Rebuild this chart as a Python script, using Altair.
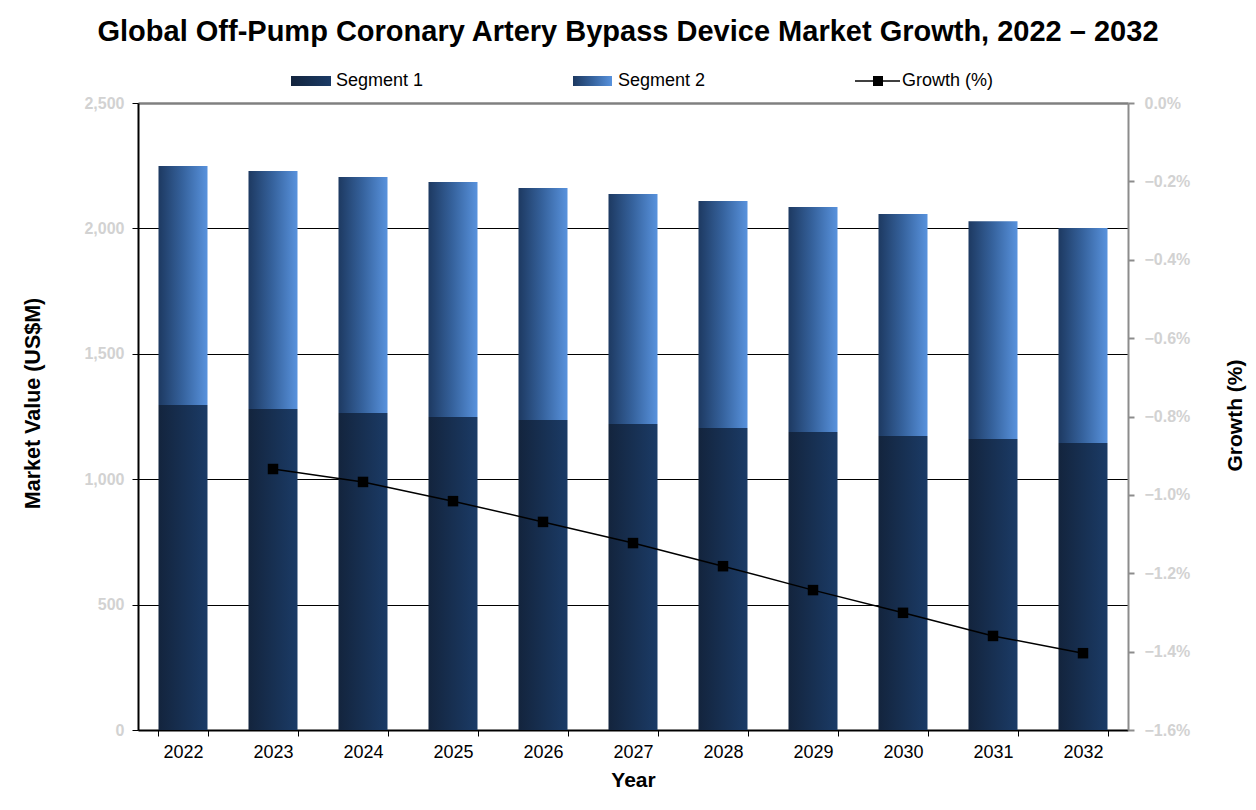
import altair as alt
import pandas as pd

years = ["2022", "2023", "2024", "2025", "2026", "2027", "2028", "2029", "2030", "2031", "2032"]
segment1 = [1296, 1280, 1264, 1248, 1236, 1220, 1204, 1188, 1172, 1160, 1144]
segment2 = [953, 949, 941, 937, 925, 917, 905, 897, 885, 869, 858]
growth = [None, -0.934, -0.967, -1.016, -1.069, -1.123, -1.182, -1.243, -1.301, -1.360, -1.404]

left_ticks = [0, 500, 1000, 1500, 2000, 2500]
right_ticks = [-1.6, -1.4, -1.2, -1.0, -0.8, -0.6, -0.4, -0.2, 0.0]

df = pd.DataFrame({
    "year": years,
    "seg1": segment1,
    "seg2": segment2,
    "growth": growth,
})
df["total"] = df["seg1"] + df["seg2"]

FONT = "Liberation Sans"

grad1 = alt.Gradient(
    gradient="linear",
    stops=[alt.GradientStop(offset=0, color="#13243d"),
           alt.GradientStop(offset=1, color="#1b3b66")],
    x1=0, x2=1, y1=0, y2=0,
)
grad2 = alt.Gradient(
    gradient="linear",
    stops=[alt.GradientStop(offset=0, color="#1d3961"),
           alt.GradientStop(offset=0.5, color="#36639e"),
           alt.GradientStop(offset=1, color="#5892dd")],
    x1=0, x2=1, y1=0, y2=0,
)

x_enc = alt.X(
    "year:O",
    scale=alt.Scale(paddingInner=0.455, paddingOuter=0.2275),
    axis=alt.Axis(
        title="Year", titleFontSize=21, titleFont=FONT, titleFontWeight="bold",
        titleColor="black", titlePadding=8,
        labelFontSize=18, labelFont=FONT, labelColor="black", labelAngle=0, labelPadding=7,
        domainColor="black", domainWidth=2, tickColor="black", tickSize=6, tickWidth=1,
        tickBand="extent",
    ),
)

y_left = alt.Y(
    "seg1:Q",
    scale=alt.Scale(domain=[0, 2500], nice=False),
    axis=alt.Axis(
        title="Market Value (US$M)", titleFontSize=21.5, titleFont=FONT, titleFontWeight="bold",
        titleColor="black", titleX=-105, titleY=300, titleAngle=270,
        titleBaseline="middle", titleAlign="center",
        values=left_ticks, format=",d",
        labelFontSize=16, labelFont=FONT, labelColor="#d2d2d2", labelFontWeight="bold", labelPadding=8,
        domainColor="black", domainWidth=2, tickColor="black", tickSize=6,
        grid=True,
        gridColor={"condition": {"test": "datum.value >= 2500", "value": "#808080"}, "value": "#000000"},
        gridWidth={"condition": {"test": "datum.value >= 2500", "value": 2.5}, "value": 1},
    ),
)

bar1 = alt.Chart(df).mark_bar(fill=grad1, size=49).encode(x=x_enc, y=y_left)
bar2 = alt.Chart(df).mark_bar(fill=grad2, size=49).encode(x=x_enc, y="seg1:Q", y2="total:Q")
bars = alt.layer(bar1, bar2)

y_right = alt.Y(
    "growth:Q",
    scale=alt.Scale(domain=[-1.6, 0.0], nice=False, zero=False),
    axis=alt.Axis(
        orient="right",
        title="Growth (%)", titleFontSize=21, titleFont=FONT, titleFontWeight="bold",
        titleColor="black", titleX=107, titleY=312, titleAngle=270,
        titleBaseline="middle", titleAlign="center",
        values=right_ticks, labelExpr="format(datum.value, '.1f') + '%'",
        labelFontSize=16, labelFont=FONT, labelColor="#d2d2d2", labelFontWeight="bold", labelPadding=10,
        domainColor="#8c8c8c", domainWidth=2, tickColor="#8c8c8c", tickSize=6, tickWidth=2,
        grid=False,
    ),
)

gbase = alt.Chart(df).transform_filter("isValid(datum.growth)")
gline = gbase.mark_line(color="black", strokeWidth=1.5).encode(x=x_enc, y=y_right)
gpts = gbase.mark_point(shape="square", filled=True, color="black", size=110, opacity=1).encode(x=x_enc, y="growth:Q")
growth_layer = alt.layer(gline, gpts)

one = alt.Data(values=[{"k": 1}])
leg_y = -22
leg_r1 = alt.Chart(one).mark_rect(fill=grad1).encode(
    x=alt.value(153), x2=alt.value(193), y=alt.value(leg_y - 5), y2=alt.value(leg_y + 5))
leg_t1 = alt.Chart(one).mark_text(align="left", baseline="middle", fontSize=18, font=FONT, color="black").encode(
    x=alt.value(198), y=alt.value(leg_y), text=alt.value("Segment 1"))
leg_r2 = alt.Chart(one).mark_rect(fill=grad2).encode(
    x=alt.value(435), x2=alt.value(474), y=alt.value(leg_y - 5), y2=alt.value(leg_y + 5))
leg_t2 = alt.Chart(one).mark_text(align="left", baseline="middle", fontSize=18, font=FONT, color="black").encode(
    x=alt.value(480), y=alt.value(leg_y), text=alt.value("Segment 2"))
leg_l = alt.Chart(one).mark_rule(color="black", strokeWidth=1.5).encode(
    x=alt.value(717), x2=alt.value(762), y=alt.value(leg_y))
leg_p = alt.Chart(one).mark_point(shape="square", filled=True, color="black", size=100, opacity=1).encode(
    x=alt.value(740), y=alt.value(leg_y))
leg_t3 = alt.Chart(one).mark_text(align="left", baseline="middle", fontSize=18, font=FONT, color="black").encode(
    x=alt.value(764), y=alt.value(leg_y), text=alt.value("Growth (%)"))
legend = alt.layer(leg_r1, leg_t1, leg_r2, leg_t2, leg_l, leg_p, leg_t3)

chart = alt.layer(bars, growth_layer, legend).resolve_scale(y="independent").properties(
    width=990,
    height=627,
    autosize=alt.AutoSizeParams(type="none"),
    padding={"left": 130, "top": 95, "right": 120, "bottom": 70},
    title=alt.TitleParams(
        "Global Off-Pump Coronary Artery Bypass Device Market Growth, 2022 \u2013 2032",
        fontSize=29, font=FONT, fontWeight="bold", color="black",
        anchor="middle", baseline="alphabetic", offset=2, dx=-5,
    ),
).configure_view(stroke="#808080", strokeWidth=2).configure(background="white")

chart.save("out.html", embed_options={"renderer": "svg", "actions": False})
